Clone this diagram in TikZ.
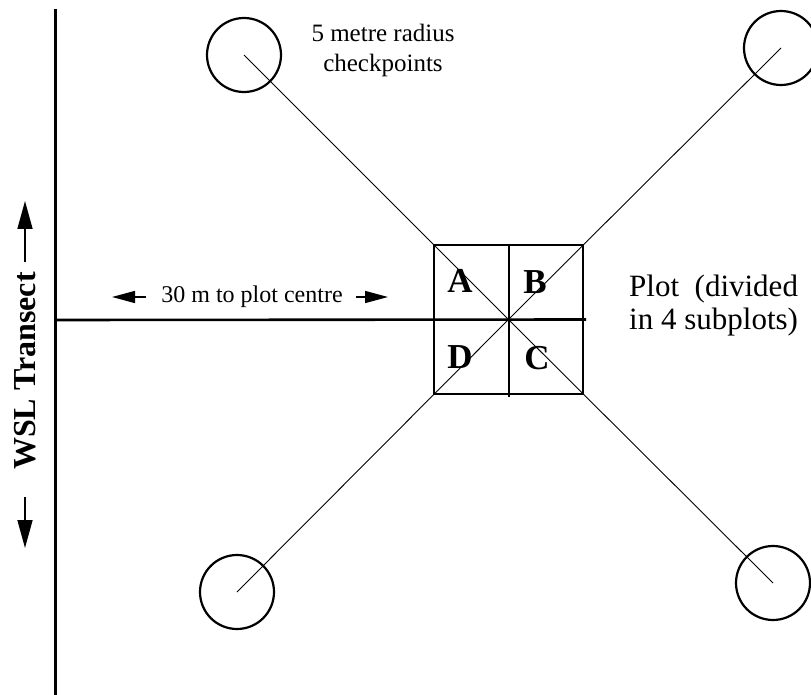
\documentclass[tikz,border=0pt]{standalone}
\usepackage{fontspec}
\setmainfont{Liberation Serif}
\usetikzlibrary{arrows.meta}
\begin{document}
\begin{tikzpicture}[x=1pt,y=-1pt,
  thickline/.style={line width=2.6pt},
  thinline/.style={line width=0.9pt},
  checkpoint/.style={circle,draw,line width=2.2pt,minimum size=74pt,inner sep=0pt},
  plotbox/.style={rectangle,draw,line width=2.4pt,minimum size=149pt,inner sep=0pt},
  sublabel/.style={font=\fontsize{35}{40}\selectfont\bfseries,inner sep=0pt},
  bigarrow/.style={line width=1.6pt,-{Triangle[length=28pt,width=15pt]}},
  medarrow/.style={line width=1.4pt,-{Triangle[length=23pt,width=12pt]}}]
\useasboundingbox (0,0) rectangle (811,695);
% transect
\coordinate (ttop) at (55.5,9);
\coordinate (tbot) at (55.5,697);
\coordinate (tmid) at (55.5,320);
\draw[line width=3pt] (ttop) -- (tbot);
% plot
\node[plotbox] (p) at (508.5,319.5) {};
\coordinate (pe) at (586,319.5);
\coordinate (vt) at (509,244);
\coordinate (vb) at (509,397);
% circles
\node[checkpoint] (c1) at (244,55) {};
\node[checkpoint] (c2) at (781,48) {};
\node[checkpoint] (c3) at (237,592) {};
\node[checkpoint] (c4) at (773,583) {};
% diagonals
\draw[thinline] (c1.center) -- (p.center);
\draw[thinline] (c2.center) -- (p.center);
\draw[thinline] (c3.center) -- (p.center);
\draw[thinline] (c4.center) -- (p.center);
% dividers
\draw[thickline] (tmid) -- (pe);
\draw[thickline] (vt) -- (vb);
% sub labels
\node[sublabel] (la) at (460,281) {A};
\node[sublabel] (lb) at (535,282) {B};
\node[sublabel] (ld) at (460,357) {D};
\node[sublabel] (lc) at (537,358) {C};
% texts
\node[font=\fontsize{25}{30}\selectfont,align=center,inner sep=0pt] (ck) at (383,50) {5 metre radius\\checkpoints};
\node[font=\fontsize{24}{28}\selectfont,inner sep=0pt] (dist) at (252,297) {30 m to plot centre};
\coordinate (la1) at (146,297);
\coordinate (la2) at (112,297);
\coordinate (ra1) at (356,297);
\coordinate (ra2) at (388,297);
\draw[medarrow] (la1) -- (la2);
\draw[medarrow] (ra1) -- (ra2);
\node[font=\fontsize{31}{33}\selectfont,align=left,anchor=west,inner sep=0pt] (pl) at (629,306) {Plot\ \ (divided\\in 4 subplots)};
\node[font=\fontsize{32}{36}\selectfont\bfseries,rotate=90,inner sep=0pt] (ws) at (25,371) {WSL Transect};
\coordinate (u1) at (25,262);
\coordinate (u2) at (25,201);
\coordinate (d1) at (25,497);
\coordinate (d2) at (25,548);
\draw[bigarrow] (u1) -- (u2);
\draw[bigarrow] (d1) -- (d2);
\end{tikzpicture}
\end{document}
